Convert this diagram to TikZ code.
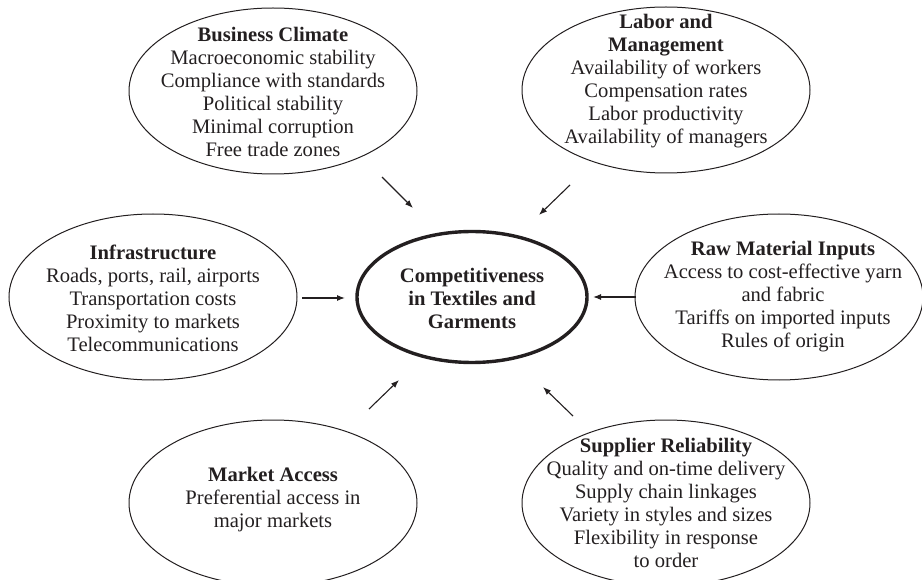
\documentclass[tikz,border=0pt]{standalone}
\usepackage{fontspec}
\setmainfont{Liberation Serif}
\usetikzlibrary{shapes.geometric,arrows.meta}
\definecolor{ink}{RGB}{35,31,32}
\begin{document}
\begin{tikzpicture}[x=1pt,y=-1pt,
  oval/.style={ellipse,draw=ink,line width=1pt,inner sep=0pt,
    minimum width=288pt,minimum height=166pt},
  hub/.style={ellipse,draw=ink,line width=3.4pt,inner sep=0pt,
    minimum width=230pt,minimum height=131pt},
  txt/.style={align=center,text=ink,inner sep=0pt,
    font=\fontsize{20.6}{23}\selectfont},
  flow/.style={draw=ink,line width=1.1pt,-{Latex[length=8pt,width=6pt]}}]
\useasboundingbox (0,0) rectangle (922,580);

% factor ellipses
\node[oval] (bc) at (273,91) {};
\node[oval] (lm) at (666,90) {};
\node[oval] (inf) at (153,297) {};
\node[oval] (raw) at (779,297) {};
\node[oval] (mkt) at (273,503) {};
\node[oval] (sup) at (666,503) {};
\node[hub] (core) at (472,297) {};

% texts
\node[txt] (bc-t) at (273,92) {\textbf{Business Climate}\\Macroeconomic stability\\Compliance with standards\\Political stability\\Minimal corruption\\Free trade zones};
\node[txt] (lm-t) at (666,81) {\textbf{Labor and}\\\textbf{Management}\\Availability of workers\\Compensation rates\\Labor productivity\\Availability of managers};
\node[txt] (inf-t) at (153,298) {\textbf{Infrastructure}\\Roads, ports, rail, airports\\Transportation costs\\Proximity to markets\\Telecommunications};
\node[txt] (raw-t) at (783,297) {\textbf{Raw Material Inputs}\\Access to cost-effective yarn\\and fabric\\Tariffs on imported inputs\\Rules of origin};
\node[txt] (mkt-t) at (273,500) {\textbf{Market Access}\\Preferential access in\\major markets};
\node[txt] (sup-t) at (666,503) {\textbf{Supplier Reliability}\\Quality and on-time delivery\\Supply chain linkages\\Variety in styles and sizes\\Flexibility in response\\to order};
\node[txt] (core-t) at (472,298) {\textbf{Competitiveness}\\\textbf{in Textiles and}\\\textbf{Garments}};

% arrow ends
\coordinate (bc-a) at (382,177);  \coordinate (bc-b) at (413,208);
\coordinate (lm-a) at (570,185);  \coordinate (lm-b) at (539,215);
\coordinate (inf-a) at (302,298); \coordinate (inf-b) at (345,298);
\coordinate (raw-a) at (636,297); \coordinate (raw-b) at (593,297);
\coordinate (mkt-a) at (369,409); \coordinate (mkt-b) at (399,380);
\coordinate (sup-a) at (573,416); \coordinate (sup-b) at (543,387);

\draw[flow] (bc-a) -- (bc-b);
\draw[flow] (lm-a) -- (lm-b);
\draw[flow] (inf-a) -- (inf-b);
\draw[flow] (raw-a) -- (raw-b);
\draw[flow] (mkt-a) -- (mkt-b);
\draw[flow] (sup-a) -- (sup-b);
\end{tikzpicture}
\end{document}
